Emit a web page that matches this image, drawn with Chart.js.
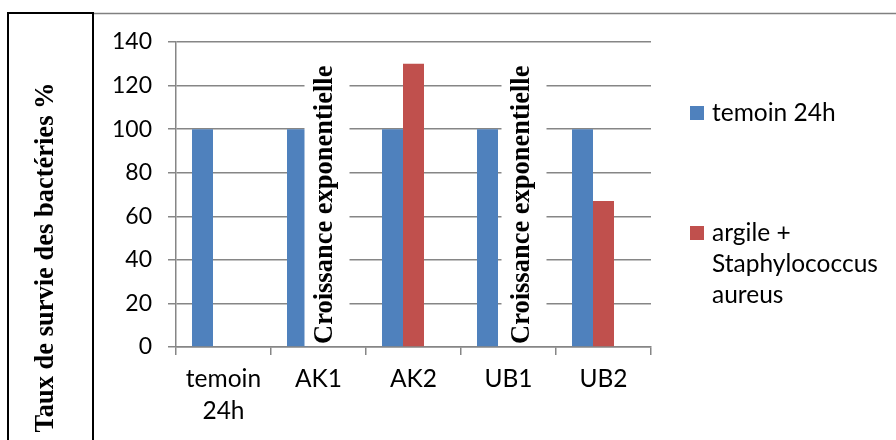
<!DOCTYPE html>
<html>
<head>
<meta charset="utf-8">
<script src="https://cdn.jsdelivr.net/npm/chart.js@4.4.1/dist/chart.umd.min.js"></script>
<style>
  body { margin: 0; background: #fff; }
  canvas { display: block; }
</style>
</head>
<body>
<canvas id="myChart" width="896" height="440"></canvas>
<script>
'use strict';

// data
const categories = [['temoin', '24h'], 'AK1', 'AK2', 'UB1', 'UB2'];
const temoinValues = [100, 100, 100, 100, 100];
const argileValues = [null, null, 130, null, 67];
const spacerValues = [null, null, null, null, null]; // empty third series, Excel left room for it
const seriesNames = ['temoin 24h', 'argile + Staphylococcus aureus'];
const yTicks = [0, 20, 40, 60, 80, 100, 120, 140];
const yTitle = 'Taux de survie des bactéries %';
const noteText = 'Croissance exponentielle';
const noteCategories = ['AK1', 'UB1'];

const BLUE = '#4f81bd';
const RED = '#c0504d';
const GRID = '#868686';
const sansFont = 'Lato';
const serifBold = 'bold 26.5px "Liberation Serif"';

// frame of the table cells + rotated y title
const framePlugin = {
  id: 'frame',
  afterDraw(chart) {
    const ctx = chart.ctx;
    ctx.save();
    ctx.strokeStyle = '#808080';
    ctx.lineWidth = 1.5;
    ctx.beginPath();
    ctx.moveTo(93, 13.5);
    ctx.lineTo(896, 13.5);
    ctx.stroke();

    ctx.strokeStyle = '#000';
    ctx.lineWidth = 2;
    ctx.beginPath();
    ctx.moveTo(8, 440);
    ctx.lineTo(8, 13);
    ctx.lineTo(93, 13);
    ctx.lineTo(93, 440);
    ctx.stroke();

    ctx.fillStyle = '#000';
    ctx.font = serifBold;
    ctx.textAlign = 'center';
    ctx.textBaseline = 'alphabetic';
    ctx.translate(53, 257.5);
    ctx.rotate(-Math.PI / 2);
    ctx.fillText(yTitle, 0, 0);
    ctx.restore();
  }
};

// white boxes with the vertical "Croissance exponentielle" note
const notesPlugin = {
  id: 'notes',
  afterDatasetsDraw(chart) {
    const ctx = chart.ctx;
    const x = chart.scales.x;
    const area = chart.chartArea;
    const shift = [13, 20];
    ctx.save();
    noteCategories.forEach((cat, i) => {
      const idx = categories.indexOf(cat);
      const base = x.getPixelForValue(idx) + shift[i];
      ctx.fillStyle = '#fff';
      ctx.fillRect(base - 27, area.top + 12, 45, area.bottom - area.top - 13);
      ctx.fillStyle = '#000';
      ctx.font = serifBold;
      ctx.textAlign = 'left';
      ctx.textBaseline = 'alphabetic';
      ctx.save();
      ctx.translate(base, area.bottom - 3);
      ctx.rotate(-Math.PI / 2);
      ctx.fillText(noteText, 0, 0);
      ctx.restore();
    });
    ctx.restore();
  }
};

// legend on the right, with wrapped labels
const legendPlugin = {
  id: 'sideLegend',
  afterDraw(chart) {
    const ctx = chart.ctx;
    const area = chart.chartArea;
    const left = area.right + 39;
    const tops = [area.top + 71, area.top + 191];
    const lineH = 31;
    ctx.save();
    ctx.font = '24.5px ' + sansFont;
    ctx.textBaseline = 'middle';
    ctx.textAlign = 'left';
    chart.data.datasets.filter(d => d.label).forEach((ds, i) => {
      ctx.fillStyle = ds.backgroundColor;
      ctx.fillRect(left, tops[i] - 7, 14, 14);
      const words = ds.label.split(' ');
      const lines = [];
      let cur = '';
      words.forEach(w => {
        const test = cur ? cur + ' ' + w : w;
        if (cur && ctx.measureText(test).width > 180) {
          lines.push(cur);
          cur = w;
        } else {
          cur = test;
        }
      });
      lines.push(cur);
      ctx.fillStyle = '#000';
      lines.forEach((l, j) => ctx.fillText(l, left + 22, tops[i] + j * lineH));
    });
    ctx.restore();
  }
};

const ctx = document.getElementById('myChart').getContext('2d');
const myChart = new Chart(ctx, {
  type: 'bar',
  data: {
    labels: categories,
    datasets: [
      { label: seriesNames[0], data: temoinValues, backgroundColor: BLUE },
      { label: seriesNames[1], data: argileValues, backgroundColor: RED },
      { label: '', data: spacerValues, backgroundColor: 'rgba(0,0,0,0)' },
    ],
  },
  options: {
    responsive: false,
    animation: false,
    categoryPercentage: 0.663,
    barPercentage: 1,
    layout: {
      padding: { left: 95, top: 42, right: 245, bottom: 0 },
    },
    plugins: {
      legend: { display: false },
      tooltip: { enabled: false },
    },
    scales: {
      x: {
        afterFit: (scale) => { scale.height = 93; },
        grid: {
          offset: true,
          drawOnChartArea: false,
          color: GRID,
          tickLength: 8,
          lineWidth: 1.5,
        },
        border: { color: GRID, width: 1.5 },
        ticks: {
          color: '#000',
          font: { family: sansFont, size: 24.5, lineHeight: 1.27 },
          padding: 9,
        },
      },
      y: {
        min: 0,
        max: 140,
        afterFit: (scale) => { scale.width = 81; },
        afterBuildTicks: (scale) => { scale.ticks = yTicks.map(v => ({ value: v })); },
        grid: { color: GRID, tickLength: 8, lineWidth: 1.5 },
        border: { color: GRID, width: 1.5 },
        ticks: {
          color: '#000',
          font: { family: sansFont, size: 23 },
          padding: 16,
        },
      },
    },
  },
  plugins: [framePlugin, notesPlugin, legendPlugin],
});
</script>
</body>
</html>
